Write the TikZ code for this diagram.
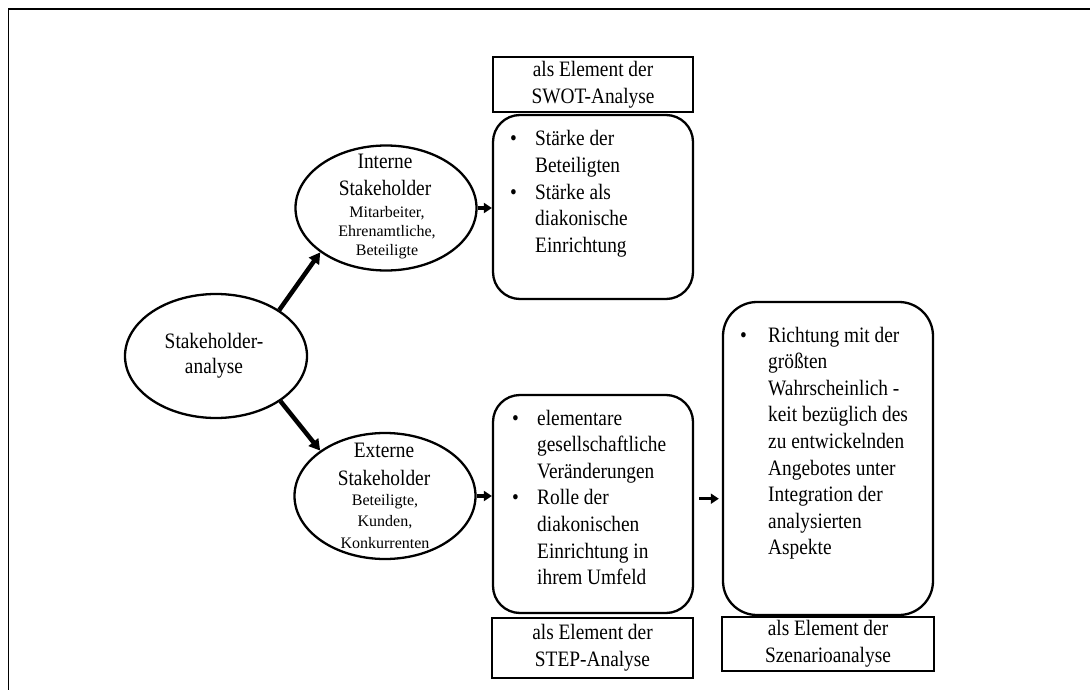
\documentclass[tikz,border=0pt]{standalone}
\usepackage{fontspec}
\setmainfont{Liberation Serif}[FakeStretch=0.88]
\newfontfamily\subfnt{Liberation Serif}
\usetikzlibrary{shapes.geometric,arrows.meta}

% bullet set in a fixed-width slot, so the item text lines up
\newcommand\bulletslot[1]{\makebox[#1][l]{\textbullet}}

\tikzset{
  outline/.style={draw, line width=2.3pt},
  ovalnode/.style={outline, ellipse, inner sep=0pt},
  panelbox/.style={outline, rectangle, rounded corners=#1, inner sep=0pt},
  panelbox/.default=27pt,
  tagbox/.style={outline, rectangle, inner sep=0pt, font=\fontsize{22}{27}\selectfont},
  boxtext/.style={inner sep=0pt, font=\fontsize{22}{26.6}\selectfont},
  titletext/.style={inner sep=0pt, anchor=base, font=\fontsize{22}{#1}\selectfont},
  subtext/.style={inner sep=0pt, anchor=base, font=\subfnt\fontsize{16}{#1}\selectfont},
  bigarrow/.style={line width=4.5pt, -{Triangle[length=11pt,width=12pt]}},
  smallarrow/.style={line width=3.2pt, -{Triangle[length=8pt,width=10pt]}},
}

\begin{document}
\begin{tikzpicture}[x=1pt, y=-1pt]
  \useasboundingbox (0,0) rectangle (1090,690);

  % open frame: top and left edges only
  \draw[line width=1.8pt] (8.5,690) -- (8.5,9) -- (1090,9);

  % ---- stakeholder ellipses ----
  \node[ovalnode, minimum width=182pt, minimum height=124pt] (sa) at (216,356) {};
  \node[titletext=25pt] (satitle) at (214,348)
    {\begin{tabular}[t]{@{}c@{}}Stakeholder-\\analyse\end{tabular}};

  \node[ovalnode, minimum width=181pt, minimum height=125pt] (int) at (386,208) {};
  \node[titletext=27pt] (inttitle) at (385,168)
    {\begin{tabular}[t]{@{}c@{}}Interne\\Stakeholder\end{tabular}};
  \node[subtext=18.5pt] (intsub) at (387,218)
    {\begin{tabular}[t]{@{}c@{}}Mitarbeiter,\\Ehrenamtliche,\\Beteiligte\end{tabular}};

  \node[ovalnode, minimum width=181pt, minimum height=126pt] (ext) at (385,496) {};
  \node[titletext=28pt] (exttitle) at (384,457)
    {\begin{tabular}[t]{@{}c@{}}Externe\\Stakeholder\end{tabular}};
  \node[subtext=21.5pt] (extsub) at (385,505)
    {\begin{tabular}[t]{@{}c@{}}Beteiligte,\\Kunden,\\Konkurrenten\end{tabular}};

  % ---- SWOT column ----
  \node[tagbox, minimum width=200pt, minimum height=55pt] (swotlbl) at (593,84.5)
    {\begin{tabular}{@{}c@{}}als Element der\\SWOT-Analyse\end{tabular}};
  \node[panelbox, minimum width=200pt, minimum height=184pt] (swot) at (593,207) {};
  \node[boxtext, anchor=base west] (swottext) at (510,146)
    {\begin{tabular}[t]{@{}l@{}l@{}}
      \bulletslot{25pt} & Stärke der\\
                        & Beteiligten\\
      \bulletslot{25pt} & Stärke als\\
                        & diakonische\\
                        & Einrichtung
    \end{tabular}};

  % ---- STEP column ----
  \node[panelbox, minimum width=200pt, minimum height=218pt] (stp) at (593,504) {};
  \node[boxtext, anchor=base west] (stptext) at (512,425)
    {\begin{tabular}[t]{@{}l@{}l@{}}
      \bulletslot{25pt} & elementare\\
                        & gesellschaftliche\\
                        & Veränderungen\\
      \bulletslot{25pt} & Rolle der\\
                        & diakonischen\\
                        & Einrichtung in\\
                        & ihrem Umfeld
    \end{tabular}};
  \node[tagbox, minimum width=201pt, minimum height=60pt] (stplbl) at (592.5,648)
    {\begin{tabular}{@{}c@{}}als Element der\\STEP-Analyse\end{tabular}};

  % ---- scenario column ----
  \node[panelbox=34pt, minimum width=210pt, minimum height=313pt] (scn) at (828,458.5) {};
  \node[boxtext, anchor=base west] (scntext) at (740,342)
    {\begin{tabular}[t]{@{}l@{}l@{}}
      \bulletslot{28pt} & Richtung mit der\\
                        & größten\\
                        & Wahrscheinlich -\\
                        & keit bezüglich des\\
                        & zu entwickelnden\\
                        & Angebotes unter\\
                        & Integration der\\
                        & analysierten\\
                        & Aspekte
    \end{tabular}};
  \node[tagbox, minimum width=212pt, minimum height=52pt] (scnlbl) at (828,644)
    {\begin{tabular}{@{}c@{}}als Element der\\Szenarioanalyse\end{tabular}};

  % ---- connectors ----
  \draw[bigarrow] (sa.36) -- (int.214);
  \draw[bigarrow] (sa.325) -- (ext.145);
  \draw[smallarrow] (int.east) -- (int.east -| swot.west);
  \draw[smallarrow] (ext.east) -- (ext.east -| stp.west);
  \draw[smallarrow, shorten <=5pt, shorten >=3pt] (stp.3) -- (stp.3 -| scn.west);
\end{tikzpicture}
\end{document}
